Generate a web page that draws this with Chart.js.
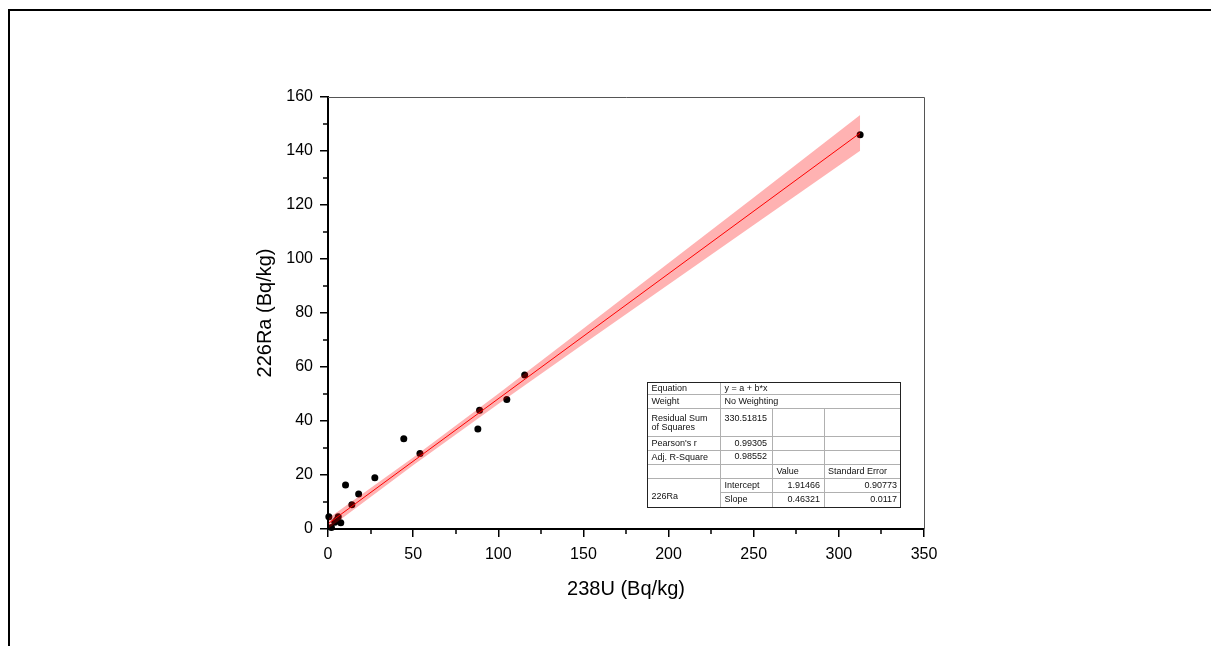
<!DOCTYPE html>
<html><head><meta charset="utf-8">
<script src="https://cdn.jsdelivr.net/npm/chart.js@4.4.0/dist/chart.umd.min.js"></script>
<style>
html,body{margin:0;padding:0;background:#fff;}
#wrap{position:relative;width:1211px;height:646px;overflow:hidden;background:#fff;}
#frame{position:absolute;left:8px;top:9px;width:1400px;height:1000px;border-top:2px solid #000;border-left:2px solid #000;}
canvas{position:absolute;left:0;top:0;}
</style></head><body>
<div id="wrap"><div id="frame"></div><canvas id="c" width="1211" height="646"></canvas></div>
<script>
// measured points: 238U (x) vs 226Ra (y), Bq/kg
const u238  = [312.5, 115.5, 105, 89, 88, 54, 44.5, 27.5, 18, 14, 10.3, 7.5, 6, 0.5, 2, 4, 5];
const ra226 = [146, 57, 48, 44, 37, 28, 33.4, 19, 13, 9, 16.3, 2.3, 4.5, 4.5, 0.6, 2.5, 3.2];
// fitted line
const fitX = [0.5, 312.5];
const fitY = [2.15, 146.67];
// 95% confidence band
const bandX     = [0.5, 50, 100, 150, 200, 250, 312.5];
const bandUpper = [4.05, 26.5, 50.1, 74.3, 98.5, 122.8, 153.3];
const bandLower = [0.25, 23.6, 46.3, 68.5, 90.6, 112.6, 140.1];
// axis ticks
const xTicks = [0, 50, 100, 150, 200, 250, 300, 350];
const yTicks = [0, 20, 40, 60, 80, 100, 120, 140, 160];
const xMinor = [25, 75, 125, 175, 225, 275, 325];
const yMinor = [10, 30, 50, 70, 90, 110, 130, 150];
// fit table
const tableLabels = ["Equation", "Weight", "Residual Sum", "of Squares", "Pearson's r", "Adj. R-Square", "226Ra"];
const tableValues = ["y = a + b*x", "No Weighting", "330.51815", "0.99305", "0.98552"];
const paramNames = ["Intercept", "Slope"];
const paramValues = ["1.91466", "0.46321"];
const paramErrors = ["0.90773", "0.0117"];
const colHeads = ["Value", "Standard Error"];

const FONT = "Arial, 'Liberation Sans', sans-serif";
const pts = (xs, ys) => xs.map((x, i) => ({x, y: ys[i]}));

const extras = {
  id: 'extras',
  afterDraw(chart) {
    const ctx = chart.ctx, a = chart.chartArea;
    const xs = chart.scales.x, ys = chart.scales.y;
    ctx.save();
    // top & right frame
    ctx.strokeStyle = '#555'; ctx.lineWidth = 1;
    ctx.beginPath();
    ctx.moveTo(a.left, a.top + 0.5); ctx.lineTo(a.right + 0.5, a.top + 0.5);
    ctx.lineTo(a.right + 0.5, a.bottom);
    ctx.stroke();
    // minor ticks
    ctx.strokeStyle = '#000'; ctx.lineWidth = 1.5;
    ctx.beginPath();
    xMinor.forEach(v => { const p = Math.round(xs.getPixelForValue(v)); ctx.moveTo(p, a.bottom); ctx.lineTo(p, a.bottom + 5); });
    yMinor.forEach(v => { const p = Math.round(ys.getPixelForValue(v)); ctx.moveTo(a.left, p); ctx.lineTo(a.left - 5, p); });
    ctx.stroke();
    // table
    const c = [647.5, 720.5, 772.5, 824.5, 900.5];
    const r = [382.5, 394.5, 408.5, 436.5, 450.5, 464.5, 478.5, 492.5, 507.5];
    ctx.fillStyle = '#fff';
    ctx.fillRect(c[0], r[0], c[4] - c[0], r[8] - r[0]);
    ctx.strokeStyle = '#b0b0b0'; ctx.lineWidth = 1;
    ctx.beginPath();
    for (let i = 1; i <= 6; i++) { ctx.moveTo(c[0], r[i]); ctx.lineTo(c[4], r[i]); }
    ctx.moveTo(c[1], r[7]); ctx.lineTo(c[4], r[7]);
    ctx.moveTo(c[1], r[0]); ctx.lineTo(c[1], r[8]);
    ctx.moveTo(c[2], r[2]); ctx.lineTo(c[2], r[8]);
    ctx.moveTo(c[3], r[2]); ctx.lineTo(c[3], r[8]);
    ctx.stroke();
    ctx.strokeStyle = '#222';
    ctx.strokeRect(c[0], r[0], c[4] - c[0], r[8] - r[0]);
    ctx.fillStyle = '#111';
    ctx.font = '9px ' + FONT;
    ctx.textBaseline = 'middle';
    ctx.textAlign = 'left';
    const lx = 651.5, vx = 724.5;
    ctx.fillText(tableLabels[0], lx, 388.5);
    ctx.fillText(tableValues[0], vx, 388.5);
    ctx.fillText(tableLabels[1], lx, 401.5);
    ctx.fillText(tableValues[1], vx, 401.5);
    ctx.fillText(tableLabels[2], lx, 418.5);
    ctx.fillText(tableLabels[3], lx, 428);
    ctx.fillText(tableLabels[4], lx, 443.5);
    ctx.fillText(tableLabels[5], lx, 457.5);
    ctx.fillText(colHeads[0], 776.5, 471.5);
    ctx.fillText(colHeads[1], 828, 471.5);
    ctx.fillText(tableLabels[6], lx, 496.5);
    ctx.fillText(paramNames[0], vx, 485.5);
    ctx.fillText(paramNames[1], vx, 500);
    ctx.textAlign = 'right';
    ctx.fillText(tableValues[2], 767, 418.5);
    ctx.fillText(tableValues[3], 767, 443.5);
    ctx.fillText(tableValues[4], 767, 456.5);
    ctx.fillText(paramValues[0], 820, 485.5);
    ctx.fillText(paramValues[1], 820, 500);
    ctx.fillText(paramErrors[0], 897, 485.5);
    ctx.fillText(paramErrors[1], 897, 500);
    ctx.restore();
  }
};

new Chart(document.getElementById('c'), {
  type: 'scatter',
  data: {
    datasets: [
      { data: pts(fitX, fitY), showLine: true, borderColor: '#ff0000', borderWidth: 1, pointRadius: 0, order: 0 },
      { data: pts(bandX, bandUpper), showLine: true, borderWidth: 0, borderColor: 'rgba(0,0,0,0)', pointRadius: 0, fill: '+1', backgroundColor: 'rgba(255,0,0,0.3)', order: 1 },
      { data: pts(bandX, bandLower), showLine: true, borderWidth: 0, borderColor: 'rgba(0,0,0,0)', pointRadius: 0, fill: false, order: 2 },
      { data: pts(u238, ra226), pointRadius: 3.5, pointBackgroundColor: '#000', pointBorderColor: '#000', pointBorderWidth: 0, clip: false, order: 5 }
    ]
  },
  options: {
    responsive: false,
    animation: false,
    devicePixelRatio: 1,
    layout: { padding: { left: 248, right: 287, top: 97, bottom: 45 } },
    plugins: { legend: { display: false }, tooltip: { enabled: false } },
    scales: {
      x: {
        type: 'linear', min: 0, max: 350,
        afterBuildTicks: s => { s.ticks = xTicks.map(v => ({value: v})); },
        afterFit: s => { s.height = 72; },
        grid: { drawOnChartArea: false, tickLength: 8, color: '#000', lineWidth: 1.5 },
        border: { display: true, color: '#000', width: 2 },
        ticks: { color: '#000', font: { family: FONT, size: 16 }, padding: 8, maxRotation: 0 },
        title: { display: true, text: '238U (Bq/kg)', color: '#000', font: { family: FONT, size: 20 }, padding: { top: 0, bottom: 0 } }
      },
      y: {
        type: 'linear', min: 0, max: 160,
        afterBuildTicks: s => { s.ticks = yTicks.map(v => ({value: v})); },
        afterFit: s => { s.width = 80; },
        grid: { drawOnChartArea: false, tickLength: 8, color: '#000', lineWidth: 1.5 },
        border: { display: true, color: '#000', width: 2 },
        ticks: { color: '#000', font: { family: FONT, size: 16 }, padding: 7 },
        title: { display: true, text: '226Ra (Bq/kg)', color: '#000', font: { family: FONT, size: 20 }, padding: { top: 5, bottom: 0 } }
      }
    }
  },
  plugins: [extras]
});
</script>
</body></html>
